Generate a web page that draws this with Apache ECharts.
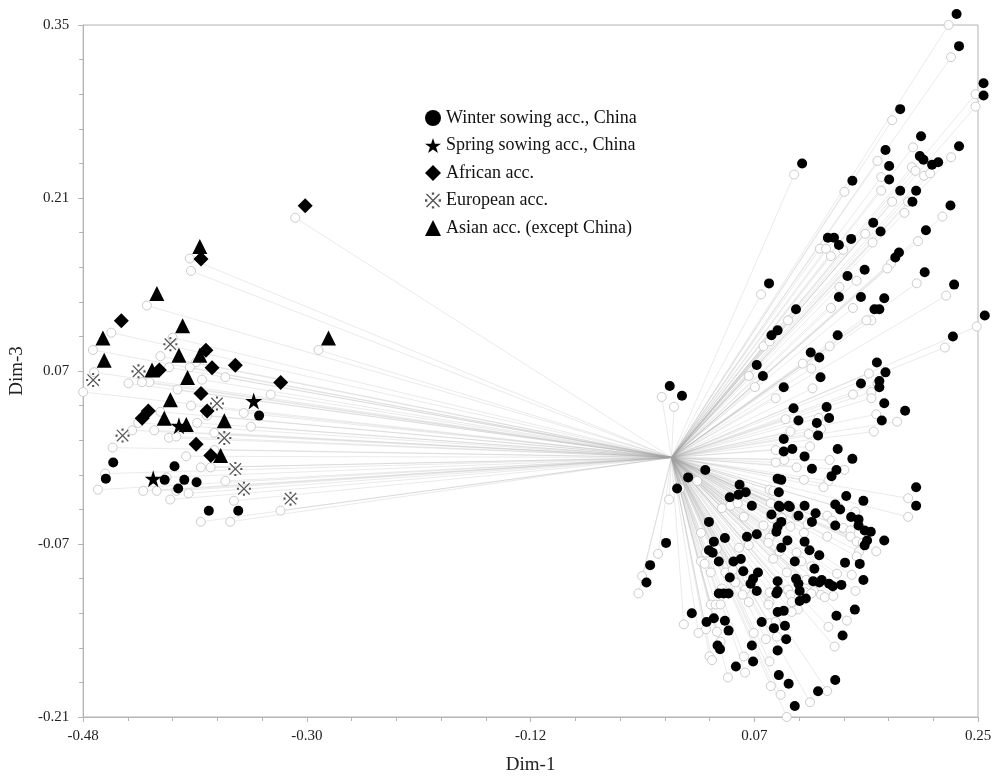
<!DOCTYPE html>
<html>
<head>
<meta charset="utf-8">
<title>Dim-1 / Dim-3</title>
<script src="https://cdn.jsdelivr.net/npm/echarts@6/dist/echarts.min.js"></script>
<style>
html, body { margin: 0; padding: 0; background: #fff; }
#chart { width: 1002px; height: 780px; }
</style>
</head>
<body>
<div id="chart"></div>
<script>
// every accession is joined to this point
const origin = [0, 0];

// [Dim-1, Dim-3] of each accession (position of the open circle)
const winterChina = [
  [0.226, 0.350], [0.228, 0.324], [0.248, 0.294], [0.248, 0.284], [0.180, 0.273], [0.197, 0.251],
  [0.228, 0.243], [0.168, 0.240], [0.196, 0.235], [0.199, 0.232], [0.206, 0.228], [0.211, 0.230],
  [0.100, 0.229], [0.171, 0.227], [0.141, 0.215], [0.171, 0.216], [0.180, 0.207], [0.193, 0.207],
  [0.190, 0.198], [0.221, 0.195], [0.158, 0.181], [0.164, 0.174], [0.201, 0.175], [0.121, 0.169],
  [0.126, 0.169], [0.130, 0.163], [0.140, 0.168], [0.179, 0.157], [0.176, 0.153], [0.151, 0.143],
  [0.137, 0.138], [0.200, 0.141], [0.224, 0.131], [0.073, 0.132], [0.130, 0.121], [0.148, 0.121],
  [0.167, 0.120], [0.163, 0.111], [0.159, 0.111], [0.095, 0.111], [0.249, 0.106], [0.075, 0.090],
  [0.080, 0.094], [0.129, 0.090], [0.223, 0.089], [0.107, 0.076], [0.114, 0.072], [0.161, 0.068],
  [0.168, 0.060], [0.063, 0.066], [0.068, 0.057], [0.115, 0.056], [0.163, 0.053], [0.163, 0.048],
  [0.148, 0.051], [0.085, 0.048], [-0.008, 0.049], [0.002, 0.041], [0.093, 0.031], [0.120, 0.032],
  [0.167, 0.035], [0.184, 0.029], [0.097, 0.021], [0.122, 0.023], [0.112, 0.019], [0.165, 0.021],
  [0.113, 0.009], [0.085, 0.006], [0.092, -0.002], [0.085, -0.004], [0.129, -0.002], [0.141, -0.010],
  [0.102, -0.008], [0.108, -0.018], [0.128, -0.019], [0.124, -0.024], [0.021, -0.019], [0.007, -0.025],
  [-0.002, -0.034], [0.080, -0.026], [0.083, -0.027], [0.193, -0.033], [0.193, -0.048], [0.049, -0.031],
  [0.048, -0.039], [0.054, -0.037], [0.041, -0.041], [0.081, -0.037], [0.136, -0.040], [0.150, -0.044],
  [0.059, -0.048], [0.081, -0.048], [0.082, -0.049], [0.089, -0.048], [0.090, -0.049], [0.102, -0.048],
  [0.127, -0.047], [0.131, -0.051], [0.075, -0.055], [0.097, -0.056], [0.111, -0.054], [0.140, -0.057],
  [0.146, -0.059], [0.146, -0.064], [0.083, -0.061], [0.108, -0.061], [0.024, -0.061], [0.127, -0.064],
  [0.080, -0.065], [0.079, -0.069], [0.151, -0.068], [0.156, -0.069], [0.063, -0.071], [0.055, -0.073],
  [0.037, -0.074], [0.088, -0.076], [0.102, -0.077], [0.153, -0.076], [0.151, -0.080], [0.167, -0.076],
  [-0.011, -0.078], [0.028, -0.077], [0.083, -0.082], [0.106, -0.084], [0.024, -0.084], [0.027, -0.086],
  [0.114, -0.088], [-0.024, -0.096], [-0.027, -0.110], [0.032, -0.093], [0.044, -0.093], [0.050, -0.091],
  [0.094, -0.093], [0.135, -0.094], [0.147, -0.095], [0.052, -0.101], [0.064, -0.102], [0.110, -0.099],
  [0.041, -0.106], [0.060, -0.107], [0.058, -0.111], [0.080, -0.109], [0.095, -0.107], [0.097, -0.111],
  [0.109, -0.109], [0.116, -0.108], [0.114, -0.110], [0.122, -0.111], [0.125, -0.113], [0.132, -0.112],
  [0.150, -0.108], [0.063, -0.117], [0.080, -0.117], [0.079, -0.119], [0.098, -0.117], [0.032, -0.119],
  [0.036, -0.119], [0.040, -0.119], [0.103, -0.123], [0.098, -0.125], [0.010, -0.135], [0.080, -0.134],
  [0.085, -0.133], [0.143, -0.132], [0.128, -0.137], [0.028, -0.139], [0.022, -0.142], [0.037, -0.141],
  [0.067, -0.142], [0.077, -0.147], [0.086, -0.145], [0.040, -0.149], [0.133, -0.153], [0.087, -0.156],
  [0.031, -0.161], [0.033, -0.164], [0.059, -0.161], [0.080, -0.165], [0.060, -0.174], [0.046, -0.178],
  [0.081, -0.185], [0.089, -0.192], [0.127, -0.189], [0.113, -0.198], [0.094, -0.210],
  [-0.343, 0.025], [-0.462, -0.013], [-0.412, -0.016], [-0.468, -0.026], [-0.420, -0.027],
  [-0.404, -0.027], [-0.394, -0.029], [-0.409, -0.034], [-0.384, -0.052], [-0.360, -0.052]
];

const springChina = [[-0.349, 0.036], [-0.410, 0.016], [-0.431, -0.027]];

const african = [
  [-0.307, 0.194], [-0.392, 0.151], [-0.457, 0.101], [-0.388, 0.077], [-0.426, 0.061], [-0.383, 0.063],
  [-0.364, 0.065], [-0.327, 0.051], [-0.392, 0.042], [-0.435, 0.028], [-0.440, 0.022], [-0.387, 0.028],
  [-0.396, 0.001], [-0.384, -0.008]
];

const european = [
  [-0.417, 0.082], [-0.443, 0.060], [-0.480, 0.053], [-0.379, 0.034], [-0.456, 0.008], [-0.373, 0.006],
  [-0.364, -0.019], [-0.357, -0.035], [-0.319, -0.043]
];

const asian = [
  [-0.393, 0.161], [-0.428, 0.123], [-0.407, 0.097], [-0.472, 0.087], [-0.288, 0.087], [-0.471, 0.069],
  [-0.410, 0.073], [-0.393, 0.073], [-0.432, 0.061], [-0.403, 0.055], [-0.417, 0.037], [-0.422, 0.022],
  [-0.404, 0.017], [-0.373, 0.020], [-0.376, -0.008]
];

const xTickLabels = ['-0.48', '-0.30', '-0.12', '0.07', '0.25'];
const yTickLabels = ['-0.21', '-0.07', '0.07', '0.21', '0.35'];

const serif = '"Liberation Serif", "DejaVu Serif", serif';
const starPath = 'path://M50,0 L61.2,34.5 L97.6,34.5 L68.2,55.9 L79.4,90.5 L50,69.1 L20.6,90.5 L31.8,55.9 L2.4,34.5 L38.8,34.5 Z';
const refMarkPath = 'path://M14,8 L92,86 L86,92 L8,14 Z M86,8 L92,14 L14,92 L8,86 Z M43,2 h14 v14 h-14 Z M43,84 h14 v14 h-14 Z M2,43 h14 v14 h-14 Z M84,43 h14 v14 h-14 Z';

const groups = [
  { name: 'Winter sowing acc., China', data: winterChina, symbol: 'circle', size: 10, color: '#000', offset: [8, -11] },
  { name: 'Spring sowing acc., China', data: springChina, symbol: starPath, size: 17, color: '#000', offset: [10, -12] },
  { name: 'African acc.', data: african, symbol: 'diamond', size: 15, color: '#000', offset: [10, -12] },
  { name: 'European acc.', data: european, symbol: refMarkPath, size: 14, color: '#555', offset: [10, -12] },
  { name: 'Asian acc. (except China)', data: asian, symbol: 'triangle', size: 15, color: '#000', offset: [10, -12] }
];

const allPoints = groups.flatMap(g => g.data);

function pickLabel(labels, v) {
  let best = labels[0];
  labels.forEach(l => { if (Math.abs(parseFloat(l) - v) < Math.abs(parseFloat(best) - v)) best = l; });
  return best;
}

const axisGray = '#b4b4b4';

const option = {
  backgroundColor: '#fff',
  animation: false,
  grid: {
    left: 80, right: 24, top: 25, bottom: 61,
    show: true, borderColor: axisGray, borderWidth: 1
  },
  legend: {
    orient: 'vertical',
    left: 420,
    top: 104,
    itemWidth: 16,
    itemHeight: 16,
    itemGap: 9.5,
    selectedMode: false,
    textStyle: { fontFamily: serif, fontSize: 18, color: '#111' },
    data: groups.map(g => ({ name: g.name, icon: g.symbol, itemStyle: { color: g.color, opacity: 1 } }))
  },
  xAxis: {
    type: 'value',
    min: -0.48,
    max: 0.25,
    interval: 0.1825,
    name: 'Dim-1',
    nameLocation: 'middle',
    nameGap: 39,
    nameTextStyle: { fontFamily: serif, fontSize: 19, color: '#222' },
    axisLine: { onZero: false, lineStyle: { color: axisGray } },
    axisTick: { length: 5, lineStyle: { color: axisGray } },
    minorTick: { show: true, splitNumber: 5, length: 4, lineStyle: { color: axisGray } },
    splitLine: { show: false },
    axisLabel: {
      margin: 12,
      fontFamily: serif, fontSize: 15, color: '#222',
      formatter: v => pickLabel(xTickLabels, v)
    }
  },
  yAxis: {
    type: 'value',
    min: -0.21,
    max: 0.35,
    interval: 0.14,
    name: 'Dim-3',
    nameLocation: 'middle',
    nameGap: 52,
    nameTextStyle: { fontFamily: serif, fontSize: 19, color: '#222' },
    axisLine: { show: true, onZero: false, lineStyle: { color: axisGray } },
    axisTick: { show: true, length: 5, lineStyle: { color: axisGray } },
    minorTick: { show: true, splitNumber: 5, length: 4, lineStyle: { color: axisGray } },
    splitLine: { show: false },
    axisLabel: {
      margin: 14,
      fontFamily: serif, fontSize: 15, color: '#222',
      formatter: v => pickLabel(yTickLabels, v)
    }
  },
  series: [
    {
      type: 'lines',
      coordinateSystem: 'cartesian2d',
      silent: true,
      z: 1,
      lineStyle: { color: '#a0a0a0', width: 1, opacity: 0.22 },
      data: allPoints.map(p => ({ coords: [origin, p] }))
    },
    {
      type: 'scatter',
      silent: true,
      clip: false,
      z: 2,
      symbol: 'circle',
      symbolSize: 9,
      itemStyle: { color: '#fff', borderColor: '#cccccc', borderWidth: 1, opacity: 1 },
      data: allPoints
    }
  ].concat(groups.map(g => ({
    type: 'scatter',
    name: g.name,
    clip: false,
    z: 3,
    symbol: g.symbol,
    symbolSize: g.size,
    symbolOffset: g.offset,
    itemStyle: { color: g.color, opacity: 1 },
    data: g.data
  })))
};

const myChart = echarts.init(document.getElementById('chart'));
myChart.setOption(option);
</script>
</body>
</html>
